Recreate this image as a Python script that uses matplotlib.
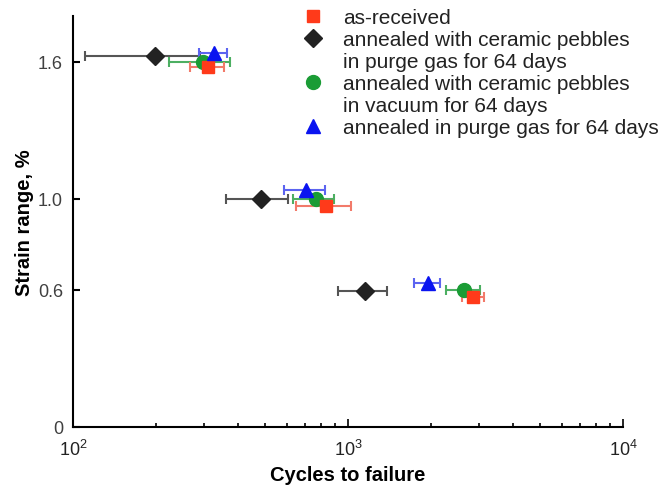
import matplotlib
matplotlib.use("Agg")
import matplotlib.pyplot as plt
from matplotlib.lines import Line2D
import numpy as np

plt.rcParams['font.family'] = ['Liberation Sans', 'DejaVu Sans']

# strain range levels (%) and cycles to failure, with lower / upper ends of the scatter
labels = ["as-received",
          "annealed with ceramic pebbles\nin purge gas for 64 days",
          "annealed with ceramic pebbles\nin vacuum for 64 days",
          "annealed in purge gas for 64 days"]

red_y = [1.575, 0.967, 0.567]
red_n = [310, 835, 2843]
red_lo = [267, 649, 2589]
red_hi = [355, 1030, 3117]

black_y = [1.625, 1.0, 0.595]
black_n = [199, 484, 1158]
black_lo = [111, 361, 923]
black_hi = [290, 607, 1393]

green_y = [1.60, 0.998, 0.598]
green_n = [298, 768, 2635]
green_lo = [224, 633, 2265]
green_hi = [373, 893, 3013]

blue_y = [1.64, 1.037, 0.629]
blue_n = [326, 706, 1948]
blue_lo = [288, 587, 1746]
blue_hi = [364, 828, 2154]

fig = plt.figure(figsize=(6.62, 4.89), dpi=100)
ax = fig.add_axes([0.110, 0.125, 0.831, 0.840])

series = [
    (black_n, black_y, black_lo, black_hi, 'D', '#222222', '#555555', 9.5),
    (green_n, green_y, green_lo, green_hi, 'o', '#1a9c35', '#4caf62', 10),
    (red_n, red_y, red_lo, red_hi, 's', '#ff3a1a', '#f27a6a', 9),
    (blue_n, blue_y, blue_lo, blue_hi, '^', '#0a14f0', '#5c64f0', 10.5),
]

for n, y, lo, hi, mk, col, ecol, ms in series:
    n = np.array(n, dtype=float)
    xerr = [n - np.array(lo), np.array(hi) - n]
    ax.errorbar(n, y, xerr=xerr, fmt=mk, color=col, ecolor=ecol, ms=ms,
                mec=col, elinewidth=1.5, capsize=3.5, capthick=1.5, zorder=3)

ax.set_xscale('log')
ax.set_xlim(100, 10000)
ax.set_ylim(0, 1.8)
ax.set_yticks([0, 0.6, 1.0, 1.6])
ax.set_yticklabels(['0', '0.6', '1.0', '1.6'])

for s in ['top', 'right']:
    ax.spines[s].set_visible(False)
for s in ['left', 'bottom']:
    ax.spines[s].set_linewidth(1.5)

ax.tick_params(axis='y', direction='in', length=5, width=1.5, labelsize=13,
               labelcolor='#404040', pad=7)
ax.tick_params(axis='x', which='major', direction='in', length=6, width=1.2,
               labelsize=13, labelcolor='#222222', pad=9)
ax.tick_params(axis='x', which='minor', direction='in', length=3, width=1.2)

ax.set_xlabel('Cycles to failure', fontsize=14.5, fontweight='bold', labelpad=4)
ax.set_ylabel('Strain range, %', fontsize=14.5, fontweight='bold', labelpad=3)

# legend: one row per text line, marker on first line of each entry
blank = Line2D([], [], linestyle='none', marker='')
handles = [
    Line2D([], [], linestyle='none', marker='s', color='#ff3a1a', ms=9),
    Line2D([], [], linestyle='none', marker='D', color='#222222', ms=9),
    blank,
    Line2D([], [], linestyle='none', marker='o', color='#1a9c35', ms=10),
    blank,
    Line2D([], [], linestyle='none', marker='^', color='#0a14f0', ms=10),
]
texts = []
for lab in labels:
    texts.extend(lab.split('\n'))
ax.legend(handles, texts, loc='upper left', bbox_to_anchor=(0.402, 1.039),
          frameon=False, fontsize=15, handlelength=1.0, handletextpad=0.94,
          labelspacing=0.14, borderaxespad=0, labelcolor='#222222')

fig.savefig('out.png', dpi=100)
